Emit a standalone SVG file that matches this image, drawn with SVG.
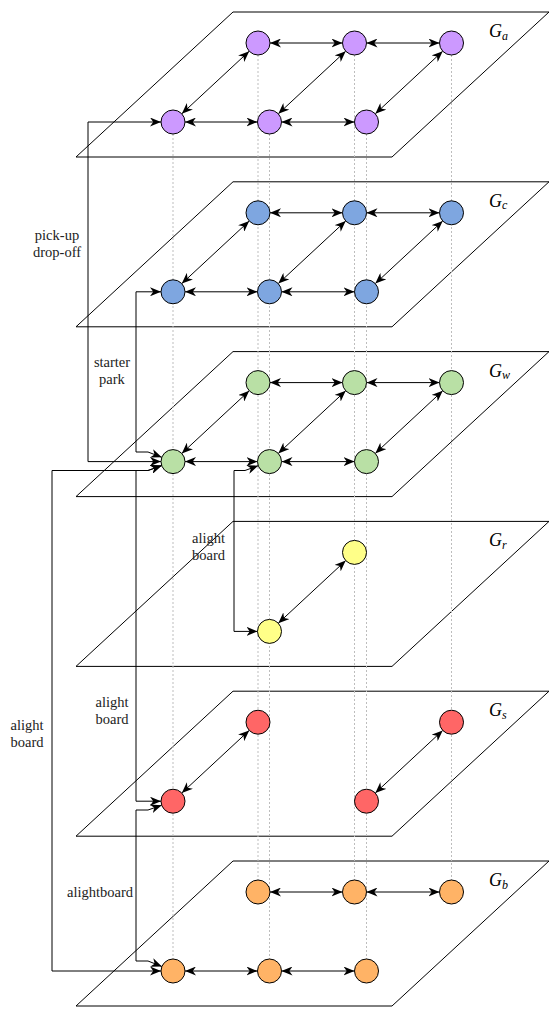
<svg xmlns="http://www.w3.org/2000/svg" width="556" height="1009" viewBox="0 0 556 1009">
<style>
.plane{fill:none;stroke:#000;stroke-width:1}
.lbl{font-family:"Liberation Serif","Times New Roman",serif;font-style:italic;fill:#000}
.g{font-size:18px}
.sub{font-size:12px}
.txt{font-family:"Liberation Serif","Times New Roman",serif;font-size:14.5px;fill:#222;text-anchor:middle}
.e{fill:none;stroke:#000;stroke-width:1;marker-start:url(#arr);marker-end:url(#arr)}
.dot{fill:none;stroke:#bdbdbd;stroke-width:1;stroke-dasharray:2 2}
.n{stroke:#000;stroke-width:1}
.pu{fill:#CC99FF}.bl{fill:#7EA6E0}.gr{fill:#B9E0A5}.ye{fill:#FFFF88}.re{fill:#FF6666}.or{fill:#FFB366}
</style>
<defs>
<marker id="arr" viewBox="0 0 11 9" refX="11" refY="4.5" markerWidth="11" markerHeight="9" markerUnits="userSpaceOnUse" orient="auto-start-reverse">
<path d="M0,0 L11,4.5 L0,9 L3.2,4.5 Z" fill="#000"/>
</marker>
</defs>

<!-- planes -->
<g id="plane-a" transform="translate(0,12)"><path class="plane" d="M233,0 H549 L392,145 H76 Z"/><text class="lbl" x="489" y="25"><tspan class="g">G</tspan><tspan class="sub" dy="2.5">a</tspan></text></g>
<g id="plane-c" transform="translate(0,181.8)"><path class="plane" d="M233,0 H549 L392,145 H76 Z"/><text class="lbl" x="489" y="25"><tspan class="g">G</tspan><tspan class="sub" dy="2.5">c</tspan></text></g>
<g id="plane-w" transform="translate(0,351.6)"><path class="plane" d="M233,0 H549 L392,145 H76 Z"/><text class="lbl" x="489" y="25"><tspan class="g">G</tspan><tspan class="sub" dy="2.5">w</tspan></text></g>
<g id="plane-r" transform="translate(0,521.4)"><path class="plane" d="M233,0 H549 L392,145 H76 Z"/><text class="lbl" x="489" y="25"><tspan class="g">G</tspan><tspan class="sub" dy="2.5">r</tspan></text></g>
<g id="plane-s" transform="translate(0,691.2)"><path class="plane" d="M233,0 H549 L392,145 H76 Z"/><text class="lbl" x="489" y="25"><tspan class="g">G</tspan><tspan class="sub" dy="2.5">s</tspan></text></g>
<g id="plane-b" transform="translate(0,861)"><path class="plane" d="M233,0 H549 L392,145 H76 Z"/><text class="lbl" x="489" y="25"><tspan class="g">G</tspan><tspan class="sub" dy="2.5">b</tspan></text></g>

<g id="connectors">
  <path class="dot" d="M173,134 V959 M258,55 V880 M269.5,134 V959 M354.5,55 V880 M366.5,134 V959 M451.5,55 V880"/>

  <g transform="translate(0,12)">
    <path class="e" d="M270,31 H342.5"/><path class="e" d="M366.5,31 H439.5"/>
    <path class="e" d="M185,110 H257.5"/><path class="e" d="M281.5,110 H354.5"/>
    <path class="e" d="M181.8,101.8 L249.2,39.2"/><path class="e" d="M278.3,101.8 L345.7,39.2"/><path class="e" d="M375.3,101.8 L442.7,39.2"/>
  </g>
  <g transform="translate(0,181.8)">
    <path class="e" d="M270,31 H342.5"/><path class="e" d="M366.5,31 H439.5"/>
    <path class="e" d="M185,110 H257.5"/><path class="e" d="M281.5,110 H354.5"/>
    <path class="e" d="M181.8,101.8 L249.2,39.2"/><path class="e" d="M278.3,101.8 L345.7,39.2"/><path class="e" d="M375.3,101.8 L442.7,39.2"/>
  </g>
  <g transform="translate(0,351.6)">
    <path class="e" d="M270,31 H342.5"/><path class="e" d="M366.5,31 H439.5"/>
    <path class="e" d="M185,110 H257.5"/><path class="e" d="M281.5,110 H354.5"/>
    <path class="e" d="M181.8,101.8 L249.2,39.2"/><path class="e" d="M278.3,101.8 L345.7,39.2"/><path class="e" d="M375.3,101.8 L442.7,39.2"/>
  </g>
  <g transform="translate(0,521.4)">
    <path class="e" d="M278.3,101.8 L345.7,39.2"/>
  </g>
  <g transform="translate(0,691.2)">
    <path class="e" d="M181.8,101.8 L249.2,39.2"/><path class="e" d="M375.3,101.8 L442.7,39.2"/>
  </g>
  <g transform="translate(0,861)">
    <path class="e" d="M270,31 H342.5"/><path class="e" d="M366.5,31 H439.5"/>
    <path class="e" d="M185,110 H257.5"/><path class="e" d="M281.5,110 H354.5"/>
  </g>

  <path class="e" d="M161,122 H88 V461.6 H161"/>
  <path class="e" d="M161,291.8 H136 V452 H148 L161.8,457.3"/>
  <path class="e" d="M161.7,465.6 L148,470.5 H136 V801.2 H161"/>
  <path class="e" d="M161.7,465.6 L148,470.5 H52 V971 H161"/>
  <path class="e" d="M161.7,805.2 L148,810 H136 V961 H148 L161.9,966.5"/>
  <path class="e" d="M258.2,465.7 L245,470.5 H234 V631.4 H257.5"/>

  <text class="txt" x="57" y="240">pick-up</text>
  <text class="txt" x="57" y="257">drop-off</text>
  <text class="txt" x="112" y="366.5">starter</text>
  <text class="txt" x="112" y="383.5">park</text>
  <text class="txt" x="208.5" y="543">alight</text>
  <text class="txt" x="208.5" y="560">board</text>
  <text class="txt" x="112" y="706.5">alight</text>
  <text class="txt" x="112" y="723.5">board</text>
  <text class="txt" x="27" y="729.5">alight</text>
  <text class="txt" x="27" y="747">board</text>
  <text class="txt" x="100" y="897">alightboard</text>
</g>

<g id="a-t1"><circle class="n pu" cx="258" cy="43" r="12"/></g>
<g id="a-t2"><circle class="n pu" cx="354.5" cy="43" r="12"/></g>
<g id="a-t3"><circle class="n pu" cx="451.5" cy="43" r="12"/></g>
<g id="a-b1"><circle class="n pu" cx="173" cy="122" r="12"/></g>
<g id="a-b2"><circle class="n pu" cx="269.5" cy="122" r="12"/></g>
<g id="a-b3"><circle class="n pu" cx="366.5" cy="122" r="12"/></g>

<g id="c-t1"><circle class="n bl" cx="258" cy="212.8" r="12"/></g>
<g id="c-t2"><circle class="n bl" cx="354.5" cy="212.8" r="12"/></g>
<g id="c-t3"><circle class="n bl" cx="451.5" cy="212.8" r="12"/></g>
<g id="c-b1"><circle class="n bl" cx="173" cy="291.8" r="12"/></g>
<g id="c-b2"><circle class="n bl" cx="269.5" cy="291.8" r="12"/></g>
<g id="c-b3"><circle class="n bl" cx="366.5" cy="291.8" r="12"/></g>

<g id="w-t1"><circle class="n gr" cx="258" cy="382.6" r="12"/></g>
<g id="w-t2"><circle class="n gr" cx="354.5" cy="382.6" r="12"/></g>
<g id="w-t3"><circle class="n gr" cx="451.5" cy="382.6" r="12"/></g>
<g id="w-b1"><circle class="n gr" cx="173" cy="461.6" r="12"/></g>
<g id="w-b2"><circle class="n gr" cx="269.5" cy="461.6" r="12"/></g>
<g id="w-b3"><circle class="n gr" cx="366.5" cy="461.6" r="12"/></g>

<g id="r-t2"><circle class="n ye" cx="354.5" cy="552.4" r="12"/></g>
<g id="r-b2"><circle class="n ye" cx="269.5" cy="631.4" r="12"/></g>

<g id="s-t1"><circle class="n re" cx="258" cy="722.2" r="12"/></g>
<g id="s-t3"><circle class="n re" cx="451.5" cy="722.2" r="12"/></g>
<g id="s-b1"><circle class="n re" cx="173" cy="801.2" r="12"/></g>
<g id="s-b3"><circle class="n re" cx="366.5" cy="801.2" r="12"/></g>

<g id="b-t1"><circle class="n or" cx="258" cy="892" r="12"/></g>
<g id="b-t2"><circle class="n or" cx="354.5" cy="892" r="12"/></g>
<g id="b-t3"><circle class="n or" cx="451.5" cy="892" r="12"/></g>
<g id="b-b1"><circle class="n or" cx="173" cy="971" r="12"/></g>
<g id="b-b2"><circle class="n or" cx="269.5" cy="971" r="12"/></g>
<g id="b-b3"><circle class="n or" cx="366.5" cy="971" r="12"/></g>
</svg>
